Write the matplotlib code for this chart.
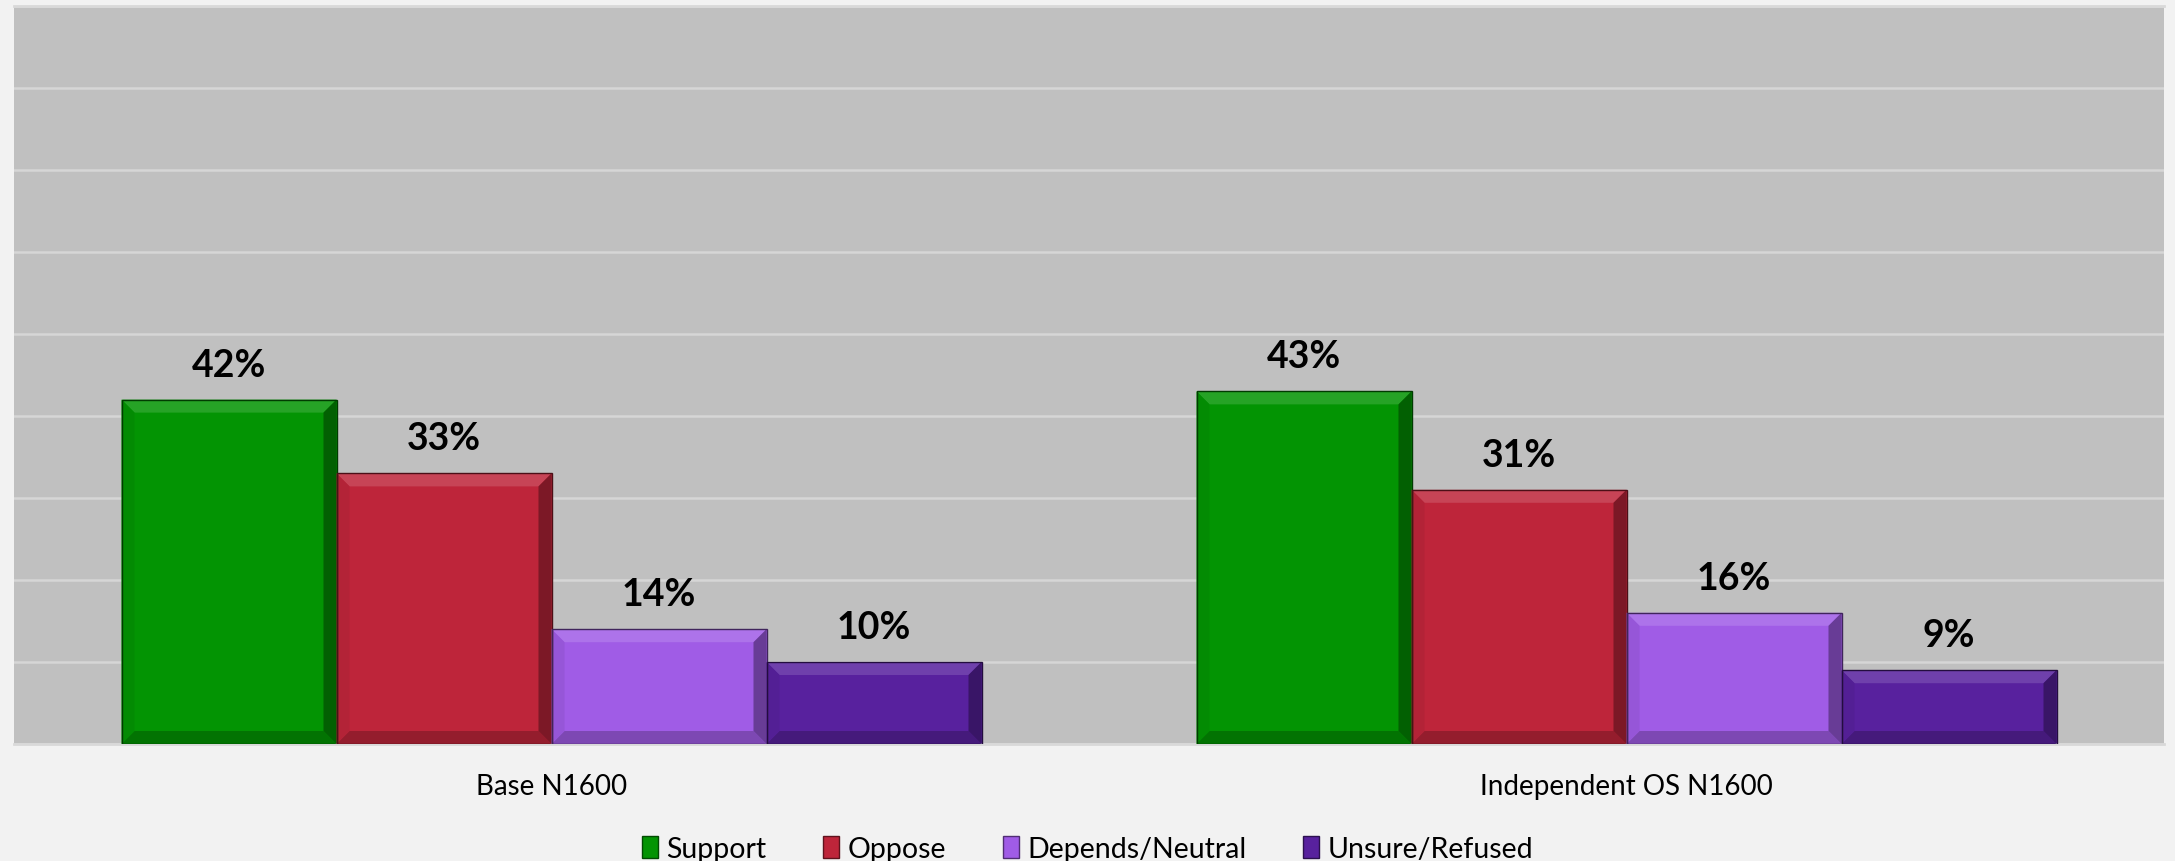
import numpy as np
import matplotlib
matplotlib.use('Agg')
import matplotlib.pyplot as plt
from matplotlib.patches import Polygon, Patch
from matplotlib.colors import to_rgb

plt.rcParams['font.family'] = ['Lato', 'DejaVu Sans']

categories = ['Base N1600', 'Independent OS N1600']
series = ['Support', 'Oppose', 'Depends/Neutral', 'Unsure/Refused']
support = [42, 43]
oppose = [33, 31]
depends = [14, 16]
unsure = [10, 9]
values = [support, oppose, depends, unsure]
colors = ['#039403', '#BE253A', '#A05CE6', '#58219E']


def shade(c, f):
    r = np.array(to_rgb(c))
    if f > 0:
        return tuple(r + (1 - r) * f)
    return tuple(r * (1 + f))


W, H = 2175, 862
fig = plt.figure(figsize=(W / 100, H / 100), dpi=100)
fig.patch.set_facecolor('#F2F2F2')
ax_l, ax_b, ax_w, ax_h = 14, 862 - 745, 2150, 738
ax = fig.add_axes([ax_l / W, ax_b / H, ax_w / W, ax_h / H])
ax.set_facecolor('#C0C0C0')

ymax = 90
ax.set_xlim(-0.5, len(categories) - 0.5)
ax.set_ylim(0, ymax)
ax.set_yticks(np.arange(0, ymax + 1, 10))
ax.yaxis.grid(True, color='#D6D6D6', linewidth=1.8)
ax.set_axisbelow(True)
ax.tick_params(axis='y', left=False, labelleft=False)
ax.tick_params(axis='x', length=0, pad=21, labelsize=20)
for s in ['left', 'right']:
    ax.spines[s].set_visible(False)
for s in ['top', 'bottom']:
    ax.spines[s].set_color('#D9D9D9')
    ax.spines[s].set_linewidth(2)

x = np.arange(len(categories))
bw = 0.2
bev = 13  # bevel size in px
bx = bev / ax_w * (len(categories))
by = bev / ax_h * ymax

for i, name in enumerate(series):
    pos = x + (i - 1.5) * bw
    c = colors[i]
    bars = ax.bar(pos, values[i], bw, color=c, edgecolor='none', zorder=2)
    for b, v in zip(bars, values[i]):
        x0, y0 = b.get_x(), 0
        x1, y1 = x0 + b.get_width(), v
        # fake bevel: light top, dark right/bottom
        faces = [
            ([(x0, y1), (x1, y1), (x1 - bx, y1 - by), (x0 + bx, y1 - by)], shade(c, 0.14)),
            ([(x0, y0), (x1, y0), (x1 - bx, y0 + by), (x0 + bx, y0 + by)], shade(c, -0.22)),
            ([(x0, y0), (x0, y1), (x0 + bx, y1 - by), (x0 + bx, y0 + by)], shade(c, -0.06)),
            ([(x1, y0), (x1, y1), (x1 - bx, y1 - by), (x1 - bx, y0 + by)], shade(c, -0.35)),
        ]
        for pts, fc in faces:
            ax.add_patch(Polygon(pts, closed=True, facecolor=fc, edgecolor='none', zorder=3))
        ax.add_patch(plt.Rectangle((x0, y0), x1 - x0, y1 - y0, fill=False,
                                   edgecolor=shade(c, -0.6), linewidth=1, zorder=4))
        ax.annotate(f'{v}%', (b.get_x() + b.get_width() / 2, v), xytext=(0, 13),
                    textcoords='offset points', ha='center', va='bottom',
                    fontsize=27, fontweight='bold', color='black', zorder=5)

ax.set_xticks(x)
ax.set_xticklabels(categories)

handles = [Patch(facecolor=c, edgecolor=shade(c, -0.5), label=s) for s, c in zip(series, colors)]
fig.legend(handles=handles, loc='center', bbox_to_anchor=(0.5, 1 - 850 / H), ncol=4,
           frameon=False, fontsize=20.5, handlelength=0.55, handleheight=0.8,
           handletextpad=0.3, columnspacing=2.0)

fig.savefig('out.png', dpi=100, facecolor=fig.get_facecolor())
